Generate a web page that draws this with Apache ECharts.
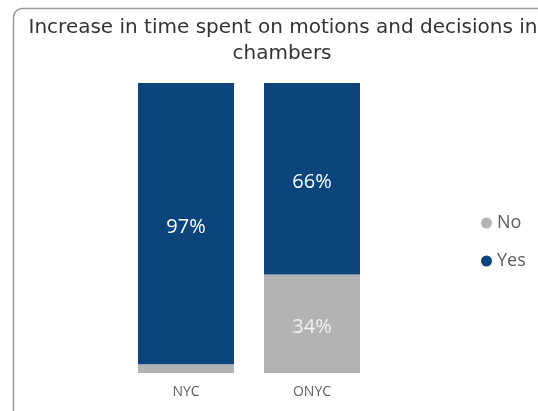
<!DOCTYPE html>
<html>
<head>
<meta charset="utf-8">
<script src="https://cdn.jsdelivr.net/npm/echarts@6/dist/echarts.min.js"></script>
<style>
  html, body { margin: 0; padding: 0; background: #ffffff; }
  #chart { width: 538px; height: 411px; }
</style>
</head>
<body>
<div id="chart"></div>
<script>
// Share of respondents, by region
const categories = ['NYC', 'ONYC'];
const noValues = [3, 34];
const yesValues = [97, 66];
const seriesNames = ['No', 'Yes'];
const titleLines = ['Increase in time spent on motions and decisions in', 'chambers'];

const chart = echarts.init(document.getElementById('chart'), null, { renderer: 'canvas' });

const pctLabel = {
  show: true,
  position: 'inside',
  color: '#ffffff',
  fontFamily: 'Open Sans',
  fontSize: 20,
  offset: [0, 4],
  formatter: p => (p.value >= 5 ? p.value + '%' : '')
};

chart.setOption({
  animation: false,
  graphic: [
    {
      type: 'rect',
      shape: { x: 13.5, y: 8.5, width: 600, height: 420, r: 9 },
      style: { fill: '#ffffff', stroke: '#9a9a9a', lineWidth: 1.5 },
      z: -10
    },
    {
      type: 'text',
      x: 283, y: 18,
      style: {
        text: titleLines[0],
        fill: '#333333',
        font: '20px "DejaVu Sans"',
        textAlign: 'center'
      }
    },
    {
      type: 'text',
      x: 282, y: 44,
      style: {
        text: titleLines[1],
        fill: '#333333',
        font: '20px "DejaVu Sans"',
        textAlign: 'center'
      }
    }
  ],
  legend: {
    orient: 'vertical',
    left: 476,
    top: 209,
    itemWidth: 11,
    itemHeight: 11,
    itemGap: 20,
    icon: 'circle',
    data: seriesNames,
    textStyle: { color: '#605e5c', fontFamily: 'Open Sans', fontSize: 18, padding: [0, 0, 0, 0] }
  },
  grid: { left: 123, right: 538 - 375, top: 83, bottom: 411 - 373, containLabel: false },
  xAxis: {
    type: 'category',
    data: categories,
    axisLine: { show: false },
    axisTick: { show: false },
    axisLabel: { color: '#605e5c', fontFamily: 'Open Sans', fontSize: 14, margin: 12 }
  },
  yAxis: {
    type: 'value',
    min: 0,
    max: 100,
    show: false,
    splitLine: { show: false }
  },
  series: [
    {
      name: seriesNames[0],
      type: 'bar',
      stack: 'total',
      barWidth: 96,
      data: noValues,
      itemStyle: { color: '#b3b3b3' },
      label: Object.assign({}, pctLabel, { color: '#f2f2f2' })
    },
    {
      name: seriesNames[1],
      type: 'bar',
      stack: 'total',
      barWidth: 96,
      data: yesValues,
      itemStyle: { color: '#0c447c' },
      label: pctLabel
    }
  ]
});
</script>
</body>
</html>
